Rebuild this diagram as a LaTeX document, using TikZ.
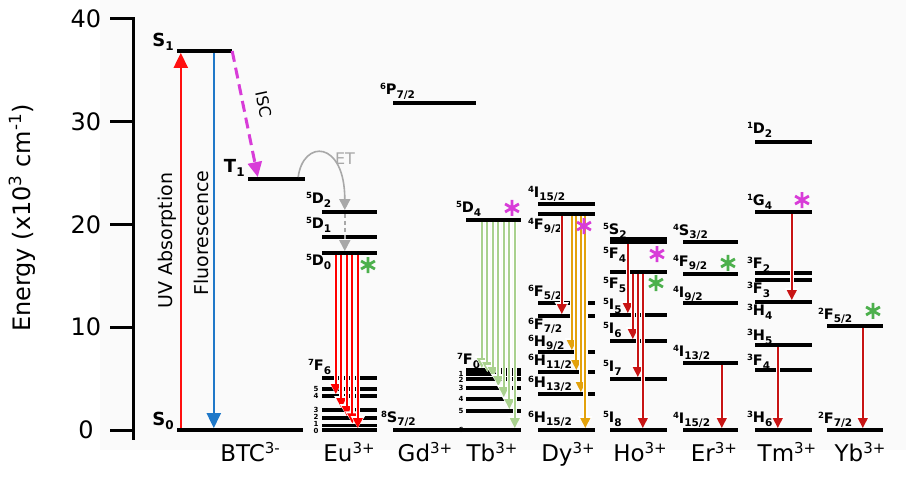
\documentclass[tikz,border=0pt]{standalone}
\usepackage{fontspec}
\setmainfont{DejaVu Sans}
\usepackage{xcolor}
\usepackage{tikz}
\usetikzlibrary{arrows.meta,positioning}

\definecolor{uvred}{HTML}{FF1010}
\definecolor{fluoblue}{HTML}{1F78C8}
\definecolor{iscpink}{HTML}{D83CD8}
\definecolor{eured}{HTML}{FF0000}
\definecolor{tbgreen}{HTML}{A9D18E}
\definecolor{dyorange}{HTML}{E3A20C}
\definecolor{lnred}{HTML}{C81414}
\definecolor{stargreen}{HTML}{4CB04C}
\definecolor{etgray}{HTML}{A8A8A8}

\newcommand{\term}[3]{\raisebox{5pt}{\fontsize{8.5}{8.5}\selectfont#1}#2\raisebox{-3.5pt}{\fontsize{10.5}{10.5}\selectfont#3}}
\newcommand{\stlab}[2]{#1\raisebox{-4pt}{\fontsize{12}{12}\selectfont#2}}
\newcommand{\ionlab}[2]{#1\raisebox{8pt}{\fontsize{15}{15}\selectfont#2}}

\begin{document}
\begin{tikzpicture}[x=1pt, y=10.28pt,
	lev/.style={fill=black, inner sep=0, minimum height=3.4pt, minimum width=#1},
	lev/.default=55pt,
	term/.style={font=\fontsize{14.5}{14.5}\selectfont\bfseries, inner sep=0, anchor=west},
	num/.style={font=\fontsize{7}{7}\selectfont\bfseries, inner sep=0, anchor=east},
	stt/.style={font=\fontsize{18}{18}\selectfont\bfseries, inner sep=0, anchor=east},
	ionl/.style={font=\fontsize{23}{23}\selectfont, inner sep=0, anchor=base},
	emi/.style={draw=#1, line width=2.2pt, -{Triangle[width=9.5pt,length=10pt]},
		preaction={draw=white, line width=4.6pt, -{Triangle[width=13.5pt,length=12pt]}}},
	bigarrow/.style={draw=#1, line width=2.4pt, -{Triangle[width=14pt,length=15pt]}},
	pics/aster/.style={code={\draw[#1, line width=2.8pt] (90:8pt) -- (270:8pt) (30:8pt) -- (210:8pt) (150:8pt) -- (330:8pt);}}
]
\useasboundingbox (0,-4.96) rectangle (906,41.83);
\fill[black!2] (100,-1.95) rectangle (906,41.83);

% axis
\draw[line width=3pt] (133,-0.97) -- (133,40.146);
\foreach \e in {0,10,20,30,40}{
	\draw[line width=3pt] (110,\e) -- (133,\e);
	\node[font=\fontsize{24}{24}\selectfont] (tick\e) at (86,\e) {\e};
}
\node[rotate=90, font=\fontsize{24}{24}\selectfont] (ytitle) at (22,20.62) {Energy (x10\textsuperscript{3} cm\textsuperscript{-1})};

% BTC
\node[lev] (S1) at (204.5,36.87) {};
\node[lev=126pt] (S0) at (240,0) {};
\node[lev=57pt] (T1) at (276.5,24.42) {};
\node[stt] (lS1) at ([xshift=-3pt,yshift=9pt]S1.west) {\stlab{S}{1}};
\node[stt] (lS0) at ([xshift=-3pt,yshift=9pt]S0.west) {\stlab{S}{0}};
\node[stt] (lT1) at ([xshift=-3pt,yshift=11pt]T1.west) {\stlab{T}{1}};

% Eu
\node[lev] (EuD2) at (349.5,21.21) {};
\node[lev] (EuD1) at (349.5,18.77) {};
\node[lev] (EuD0) at (349.5,17.22) {};
\node[lev] (EuF6) at (349.5,5.06) {};
\node[lev] (EuF5) at (349.5,3.99) {};
\node[lev] (EuF4) at (349.5,3.31) {};
\node[lev] (EuF3) at (349.5,1.95) {};
\node[lev] (EuF2) at (349.5,1.17) {};
\node[lev] (EuF1) at (349.5,0.45) {};
\node[lev] (EuF0) at (349.5,0) {};
\node[term] (lEuD2) at ([xshift=-16pt,yshift=12pt]EuD2.west) {\term{5}{D}{2}};
\node[term] (lEuD1) at ([xshift=-16pt,yshift=12pt]EuD1.west) {\term{5}{D}{1}};
\node[term] (lEuD0) at ([xshift=-16pt,yshift=-9pt]EuD0.west) {\term{5}{D}{0}};
\node[term] (lEuF6) at ([xshift=-14pt,yshift=11pt]EuF6.west) {\term{7}{F}{6}};
\node[num] (nEuF5) at ([xshift=-3pt]EuF5.west) {5};
\node[num] (nEuF4) at ([xshift=-3pt]EuF4.west) {4};
\node[num] (nEuF3) at ([xshift=-3pt]EuF3.west) {3};
\node[num] (nEuF2) at ([xshift=-3pt,yshift=1pt]EuF2.west) {2};
\node[num] (nEuF1) at ([xshift=-3pt,yshift=1pt]EuF1.west) {1};
\node[num] (nEuF0) at ([xshift=-3pt,yshift=-1pt]EuF0.west) {0};

% Gd
\node[lev=83pt] (GdP) at (434.5,31.8) {};
\node[lev=83pt] (GdS) at (434.5,0) {};
\node[term] (lGdP) at ([xshift=-13pt,yshift=12pt]GdP.west) {\term{6}{P}{7/2}};
\node[term] (lGdS) at ([xshift=-12pt,yshift=11pt]GdS.west) {\term{8}{S}{7/2}};

% Tb
\node[lev] (TbD4) at (493.5,20.43) {};
\node[lev] (TbF0) at (493.5,5.84) {};
\node[lev] (TbF1) at (493.5,5.45) {};
\node[lev] (TbF2) at (493.5,4.96) {};
\node[lev] (TbF3) at (493.5,4.09) {};
\node[lev] (TbF4) at (493.5,3.02) {};
\node[lev] (TbF5) at (493.5,1.85) {};
\node[lev] (TbF6) at (493.5,0) {};
\node[term] (lTbD4) at ([xshift=-10pt,yshift=11pt]TbD4.west) {\term{5}{D}{4}};
\node[term] (lTbF0) at ([xshift=-9pt,yshift=9pt]TbF0.west) {\term{7}{F}{0}};
\node[num] (nTbF1) at ([xshift=-2pt]TbF1.west) {1};
\node[num] (nTbF2) at ([xshift=-2pt,yshift=-1pt]TbF2.west) {2};
\node[num] (nTbF3) at ([xshift=-2pt]TbF3.west) {3};
\node[num] (nTbF4) at ([xshift=-2pt]TbF4.west) {4};
\node[num] (nTbF5) at ([xshift=-2pt]TbF5.west) {5};
\node[num] (nTbF6) at ([xshift=-2pt]TbF6.west) {6};

% Dy
\node[lev=57pt] (DyI15) at (566.5,21.98) {};
\node[lev=57pt] (DyF9) at (566.5,21.01) {};
\node[lev=57pt] (DyF5) at (566.5,12.35) {};
\node[lev=57pt] (DyF7) at (566.5,11.09) {};
\node[lev=57pt] (DyH9) at (566.5,7.59) {};
\node[lev=57pt] (DyH11) at (566.5,5.64) {};
\node[lev=57pt] (DyH13) at (566.5,3.5) {};
\node[lev=57pt] (DyH15) at (566.5,0) {};
\node[term] (lDyI15) at ([xshift=-10pt,yshift=10pt]DyI15.west) {\term{4}{I}{15/2}};
\node[term] (lDyF9) at ([xshift=-10pt,yshift=-12pt]DyF9.west) {\term{4}{F}{9/2}};
\node[term] (lDyF5) at ([xshift=-10pt,yshift=10pt]DyF5.west) {\term{6}{F}{5/2}};
\node[term] (lDyF7) at ([xshift=-10pt,yshift=-10pt]DyF7.west) {\term{6}{F}{7/2}};
\node[term] (lDyH9) at ([xshift=-10pt,yshift=9pt]DyH9.west) {\term{6}{H}{9/2}};
\node[term] (lDyH11) at ([xshift=-10pt,yshift=10pt]DyH11.west) {\term{6}{H}{11/2}};
\node[term] (lDyH13) at ([xshift=-10pt,yshift=10pt]DyH13.west) {\term{6}{H}{13/2}};
\node[term] (lDyH15) at ([xshift=-10pt,yshift=11pt]DyH15.west) {\term{6}{H}{15/2}};

% Ho
\node[lev=57pt] (HoS2) at (638.5,18.58) {};
\node[lev=57pt] (HoF4) at (638.5,18.29) {};
\node[lev=57pt] (HoF5) at (638.5,15.37) {};
\node[lev=57pt] (HoI5) at (638.5,11.19) {};
\node[lev=57pt] (HoI6) at (638.5,8.66) {};
\node[lev=57pt] (HoI7) at (638.5,4.96) {};
\node[lev=57pt] (HoI8) at (638.5,0) {};
\node[term] (lHoS2) at ([xshift=-7pt,yshift=8pt]HoS2.west) {\term{5}{S}{2}};
\node[term] (lHoF4) at ([xshift=-7pt,yshift=-13pt]HoF4.west) {\term{5}{F}{4}};
\node[term] (lHoF5) at ([xshift=-7pt,yshift=-13pt]HoF5.west) {\term{5}{F}{5}};
\node[term] (lHoI5) at ([xshift=-7pt,yshift=9pt]HoI5.west) {\term{5}{I}{5}};
\node[term] (lHoI6) at ([xshift=-7pt,yshift=11pt]HoI6.west) {\term{5}{I}{6}};
\node[term] (lHoI7) at ([xshift=-7pt,yshift=11pt]HoI7.west) {\term{5}{I}{7}};
\node[term] (lHoI8) at ([xshift=-7pt,yshift=11pt]HoI8.west) {\term{5}{I}{8}};

% Er
\node[lev] (ErS) at (710.5,18.29) {};
\node[lev] (ErF) at (710.5,15.18) {};
\node[lev] (ErI9) at (710.5,12.35) {};
\node[lev] (ErI13) at (710.5,6.52) {};
\node[lev] (ErI15) at (710.5,0) {};
\node[term] (lErS) at ([xshift=-10pt,yshift=10pt]ErS.west) {\term{4}{S}{3/2}};
\node[term] (lErF) at ([xshift=-10pt,yshift=11pt]ErF.west) {\term{4}{F}{9/2}};
\node[term] (lErI9) at ([xshift=-10pt,yshift=9pt]ErI9.west) {\term{4}{I}{9/2}};
\node[term] (lErI13) at ([xshift=-10pt,yshift=10pt]ErI13.west) {\term{4}{I}{13/2}};
\node[term] (lErI15) at ([xshift=-10pt,yshift=10pt]ErI15.west) {\term{4}{I}{15/2}};

% Tm
\node[lev=57pt] (TmD) at (783.5,28.02) {};
\node[lev=57pt] (TmG) at (783.5,21.21) {};
\node[lev=57pt] (TmF2) at (783.5,15.27) {};
\node[lev=57pt] (TmF3) at (783.5,14.59) {};
\node[lev=57pt] (TmH4) at (783.5,12.45) {};
\node[lev=57pt] (TmH5) at (783.5,8.27) {};
\node[lev=57pt] (TmF4) at (783.5,5.84) {};
\node[lev=57pt] (TmH6) at (783.5,0) {};
\node[term] (lTmD) at ([xshift=-8pt,yshift=12pt]TmD.west) {\term{1}{D}{2}};
\node[term] (lTmG) at ([xshift=-8pt,yshift=10pt]TmG.west) {\term{1}{G}{4}};
\node[term] (lTmF2) at ([xshift=-8pt,yshift=8pt]TmF2.west) {\term{3}{F}{2}};
\node[term] (lTmF3) at ([xshift=-8pt,yshift=-10pt]TmF3.west) {\term{3}{F}{3}};
\node[term] (lTmH4) at ([xshift=-8pt,yshift=-10pt]TmH4.west) {\term{3}{H}{4}};
\node[term] (lTmH5) at ([xshift=-8pt,yshift=8pt]TmH5.west) {\term{3}{H}{5}};
\node[term] (lTmF4) at ([xshift=-8pt,yshift=8pt]TmF4.west) {\term{3}{F}{4}};
\node[term] (lTmH6) at ([xshift=-8pt,yshift=11pt]TmH6.west) {\term{3}{H}{6}};

% Yb
\node[lev=56pt] (YbF5) at (855,10.12) {};
\node[lev=56pt] (YbF7) at (855,0) {};
\node[term] (lYbF5) at ([xshift=-9pt,yshift=10pt]YbF5.west) {\term{2}{F}{5/2}};
\node[term] (lYbF7) at ([xshift=-9pt,yshift=10pt]YbF7.west) {\term{2}{F}{7/2}};

% BTC transitions
\draw[bigarrow=uvred] ([xshift=4pt]S0.north west) -- ([xshift=4pt]S1.south west)
	node[midway, rotate=90, anchor=south, font=\fontsize{19}{19}\selectfont] (lUV) {UV Absorption};
\draw[bigarrow=fluoblue] ([xshift=37pt]S1.south west) -- ([xshift=37pt]S0.north west)
	node[pos=0.48, rotate=90, anchor=south, font=\fontsize{19}{19}\selectfont] (lFl) {Fluorescence};
\draw[bigarrow=iscpink, line width=3pt, dash pattern=on 11pt off 6pt] (S1.east) -- ([xshift=10pt]T1.north west);
\node[rotate=-78, font=\fontsize{16}{16}\selectfont] (lISC) at (264,31.7) {ISC};
\draw[etgray, line width=1.6pt, -{Triangle[width=11pt,length=11pt]}] ([xshift=-7pt]T1.north east) .. controls +(5,3.7) and +(0,6.8) .. ([xshift=23pt]EuD2.north west);
\node[text=etgray, font=\fontsize{16}{16}\selectfont] (lET) at (345,26.4) {ET};
\draw[etgray, line width=1.6pt, dash pattern=on 4pt off 3pt, -{Triangle[width=11pt,length=11pt]}] ([xshift=23pt]EuD2.south west) -- ([xshift=23pt]EuD0.north west);

% Eu emission
\draw[emi=eured] ([xshift=14pt]EuD0.south west) -- ([xshift=14pt]EuF4.north west);
\draw[emi=eured] ([xshift=19.5pt]EuD0.south west) -- ([xshift=19.5pt]EuF3.north west);
\draw[emi=eured] ([xshift=25pt]EuD0.south west) -- ([xshift=25pt]EuF2.north west);
\draw[emi=eured] ([xshift=30.5pt]EuD0.south west) -- ([xshift=30.5pt]EuF1.north west);
\draw[emi=eured] ([xshift=36pt]EuD0.south west) -- ([xshift=36pt]EuF0.north west);

% Tb emission
\draw[emi=tbgreen] ([xshift=16pt]TbD4.south west) -- ([xshift=16pt]TbF0.north west);
\draw[emi=tbgreen] ([xshift=21.5pt]TbD4.south west) -- ([xshift=21.5pt]TbF1.north west);
\draw[emi=tbgreen] ([xshift=27pt]TbD4.south west) -- ([xshift=27pt]TbF2.north west);
\draw[emi=tbgreen] ([xshift=32.5pt]TbD4.south west) -- ([xshift=32.5pt]TbF3.north west);
\draw[emi=tbgreen] ([xshift=38pt]TbD4.south west) -- ([xshift=38pt]TbF4.north west);
\draw[emi=tbgreen] ([xshift=43.5pt]TbD4.south west) -- ([xshift=43.5pt]TbF5.north west);
\draw[emi=tbgreen] ([xshift=49pt]TbD4.south west) -- ([xshift=49pt]TbF6.north west);

% Dy emission
\draw[emi=lnred] ([xshift=24pt]DyF9.south west) -- ([xshift=24pt]DyF7.north west);
\draw[emi=dyorange] ([xshift=34pt]DyF9.south west) -- ([xshift=34pt]DyH9.north west);
\draw[emi=dyorange] ([xshift=38.5pt]DyF9.south west) -- ([xshift=38.5pt]DyH11.north west);
\draw[emi=dyorange] ([xshift=43pt]DyF9.south west) -- ([xshift=43pt]DyH13.north west);
\draw[emi=dyorange] ([xshift=47.5pt]DyF9.south west) -- ([xshift=47.5pt]DyH15.north west);

% Ho, Er, Tm, Yb emission
\draw[emi=lnred] ([xshift=18pt]HoF4.south west) -- ([xshift=18pt]HoI5.north west);
\draw[emi=lnred] ([xshift=23pt]HoF5.south west) -- ([xshift=23pt]HoI6.north west);
\draw[emi=lnred] ([xshift=28pt]HoF5.south west) -- ([xshift=28pt]HoI7.north west);
\draw[emi=lnred] ([xshift=33pt]HoF5.south west) -- ([xshift=33pt]HoI8.north west);
\draw[emi=lnred] ([xshift=39pt]ErI13.south west) -- ([xshift=39pt]ErI15.north west);
\draw[emi=lnred] ([xshift=37pt]TmG.south west) -- ([xshift=37pt]TmH4.north west);
\draw[emi=lnred] ([xshift=23pt]TmH5.south west) -- ([xshift=23pt]TmH6.north west);
\draw[emi=lnred] ([xshift=36pt]YbF5.south west) -- ([xshift=36pt]YbF7.north west);

% emitting levels
\pic at (368,16.05) {aster=stargreen};
\pic at (512,21.6) {aster=iscpink};
\pic at (584,19.84) {aster=iscpink};
\pic at (657,17.12) {aster=iscpink};
\pic at (656,14.3) {aster=stargreen};
\pic at (728,16.25) {aster=stargreen};
\pic at (802,22.37) {aster=iscpink};
\pic at (873,11.58) {aster=stargreen};

% ions
\node[ionl] (iBTC) at (250,-3.1) {\ionlab{BTC}{3-}};
\node[ionl] (iEu) at (349,-3.1) {\ionlab{Eu}{3+}};
\node[ionl] (iGd) at (425,-3.1) {\ionlab{Gd}{3+}};
\node[ionl] (iTb) at (492,-3.1) {\ionlab{Tb}{3+}};
\node[ionl] (iDy) at (568,-3.1) {\ionlab{Dy}{3+}};
\node[ionl] (iHo) at (640,-3.1) {\ionlab{Ho}{3+}};
\node[ionl] (iEr) at (714,-3.1) {\ionlab{Er}{3+}};
\node[ionl] (iTm) at (787,-3.1) {\ionlab{Tm}{3+}};
\node[ionl] (iYb) at (860,-3.1) {\ionlab{Yb}{3+}};
\end{tikzpicture}
\end{document}
